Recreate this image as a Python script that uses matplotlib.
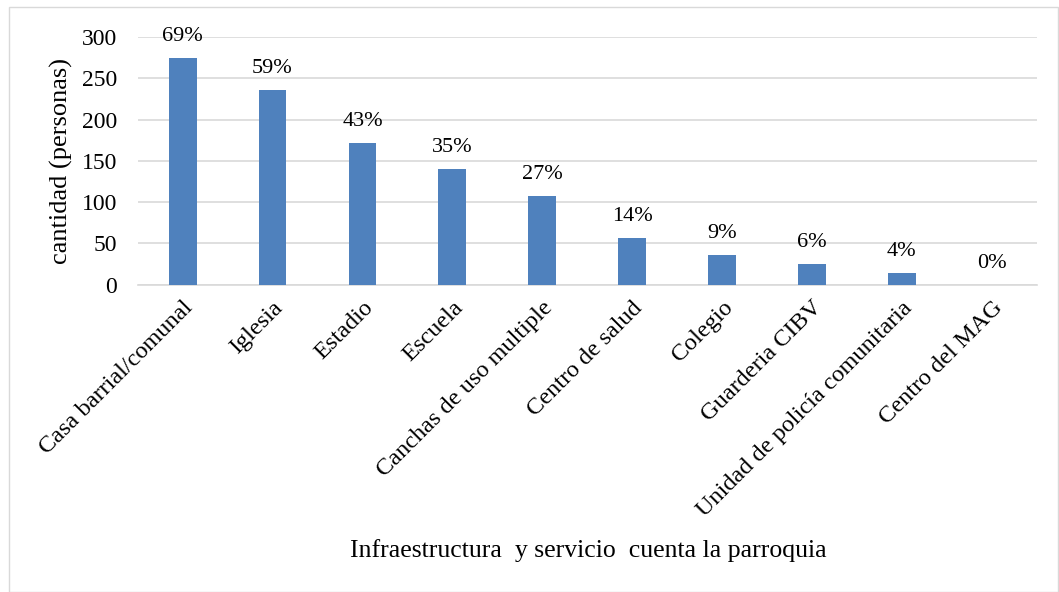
import matplotlib
matplotlib.use("Agg")
import matplotlib.pyplot as plt
from matplotlib.patches import Rectangle

categorias = ["Casa barrial/comunal", "Iglesia", "Estadio", "Escuela",
              "Canchas de uso multiple", "Centro de salud", "Colegio",
              "Guarderia CIBV", "Unidad de policía comunitaria", "Centro del MAG"]
cantidad = [275, 236, 172, 140, 108, 57, 36, 25, 14, 0]
porcentajes = ["69%", "59%", "43%", "35%", "27%", "14%", "9%", "6%", "4%", "0%"]

plt.rcParams['font.family'] = ['Liberation Serif', 'DejaVu Serif']

fig = plt.figure(figsize=(10.59, 5.92), dpi=100)
ax = fig.add_axes([0.130, 0.519, 0.849, 0.4185])

x = range(len(categorias))
bars = ax.bar(x, cantidad, width=0.31, color='#4f81bd', zorder=3)

# etiquetas de porcentaje encima de cada barra
for b, p in zip(bars, porcentajes):
    ax.annotate(p, (b.get_x() + b.get_width() / 2, b.get_height()),
                xytext=(0, 15.5), textcoords='offset points',
                ha='center', va='center', fontsize=16)

ax.set_xlim(-0.5, len(categorias) - 0.5)
ax.set_ylim(0, 300)
ax.set_yticks(range(0, 301, 50))
ax.yaxis.grid(True, color='#d9d9d9', linewidth=1.2, zorder=0)
ax.set_xticks(list(x))
ax.set_xticklabels(categorias, rotation=45, ha='right', rotation_mode='anchor',
                   fontsize=17.5)
ax.tick_params(axis='y', length=0, labelsize=17)
ax.tick_params(axis='x', length=0, pad=9)
ax.tick_params(axis='y', pad=15)
for s in ['top', 'right', 'left']:
    ax.spines[s].set_visible(False)
ax.spines['bottom'].set_color('#d9d9d9')
ax.spines['bottom'].set_linewidth(1.2)

ax.set_ylabel('cantidad (personas)', fontsize=19, labelpad=6)
fig.text(0.556, 1 - 551 / 592, 'Infraestructura  y servicio  cuenta la parroquia',
         ha='center', va='center', fontsize=18.5)

# marco exterior gris claro
fig.patches.append(Rectangle((9 / 1059, 0), 1 - 9 / 1059 - 0.001, 1 - 7 / 592,
                             transform=fig.transFigure, fill=False,
                             edgecolor='#d9d9d9', linewidth=1))

fig.savefig('out.png', dpi=100)
